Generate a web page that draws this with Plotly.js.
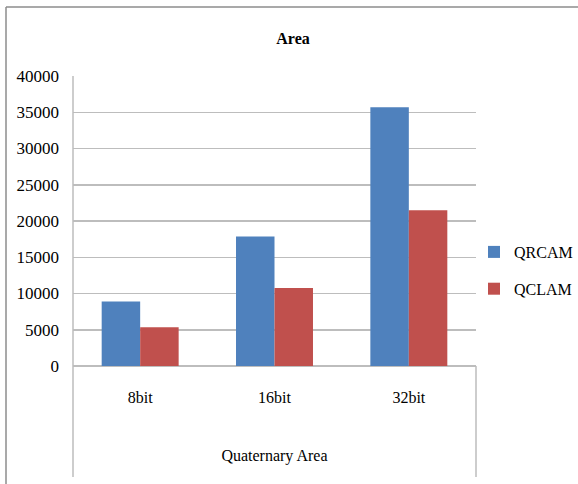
<!DOCTYPE html>
<html>
<head>
<meta charset="utf-8">
<script src="https://cdn.plot.ly/plotly-3.0.1.min.js"></script>
<style>html,body{margin:0;padding:0;background:#fff;}#chart{width:578px;height:484px;}</style>
</head>
<body>
<div id="chart"></div>
<script>
var categories = ["8bit", "16bit", "32bit"];
var qrcam = [8900, 17850, 35700];
var qclam = [5350, 10750, 21500];
var yTicks = [0, 5000, 10000, 15000, 20000, 25000, 30000, 35000, 40000];

var font = "'Liberation Serif', 'Times New Roman', serif";
var W = 578, H = 484, L = 73, R = 102, T = 76, B = 118;
var pw = W - L - R, ph = H - T - B;
function px(x) { return (x - L) / pw; }
function py(y) { return (H - B - y) / ph; }

var traces = [
  {type: "bar", name: "QRCAM", x: categories, y: qrcam, marker: {color: "#4F81BD"}, legendgroup: "a"},
  {type: "bar", name: "QCLAM", x: categories, y: qclam, marker: {color: "#C0504D"}, legendgroup: "b"}
];

var gray = "#BDBDBD";
var layout = {
  width: W, height: H,
  margin: {l: L, r: R, t: T, b: B, pad: 0, autoexpand: false},
  paper_bgcolor: "#fff", plot_bgcolor: "#fff",
  font: {family: font, size: 16, color: "#000"},
  title: {text: "<b>Area</b>", font: {family: font, size: 16, color: "#000"},
          xref: "container", yref: "container", x: 0.507, xanchor: "center", y: 1 - 38 / H, yanchor: "middle"},
  barmode: "group", bargap: 0.427, bargroupgap: 0,
  xaxis: {
    type: "category", showgrid: false, zeroline: false, showline: false, automargin: false,
    ticks: "", ticklabelstandoff: 20,
    tickfont: {family: font, size: 16},
    title: {text: "Quaternary Area", font: {family: font, size: 16}, standoff: 44}
  },
  yaxis: {
    range: [0, 40000], tickvals: yTicks, ticktext: yTicks.map(String), automargin: false,
    showgrid: true, gridcolor: gray, gridwidth: 1.5,
    zeroline: true, zerolinecolor: gray, zerolinewidth: 1.5,
    showline: false, ticks: "", ticklabelstandoff: 13,
    tickfont: {family: font, size: 17}
  },
  legend: {
    xref: "container", yref: "container",
    x: 474 / W, xanchor: "left", y: 1 - 235 / H, yanchor: "top",
    traceorder: "grouped", tracegroupgap: 13,
    font: {family: font, size: 16}, bgcolor: "rgba(0,0,0,0)", borderwidth: 0
  },
  shapes: [
    {type: "line", xref: "paper", yref: "paper", x0: 0, x1: 0, y0: 1, y1: py(477), line: {color: gray, width: 1.5}},
    {type: "line", xref: "paper", yref: "paper", x0: 1, x1: 1, y0: 0, y1: py(477), line: {color: gray, width: 1.5}},
    {type: "line", xref: "paper", yref: "paper", x0: px(6), x1: px(6), y0: py(7), y1: py(490), line: {color: "#8C8C8C", width: 1.5}},
    {type: "line", xref: "paper", yref: "paper", x0: px(6), x1: px(590), y0: py(7), y1: py(7), line: {color: "#8C8C8C", width: 1.5}}
  ]
};

Plotly.newPlot("chart", traces, layout, {staticPlot: true, displayModeBar: false});
</script>
</body>
</html>
